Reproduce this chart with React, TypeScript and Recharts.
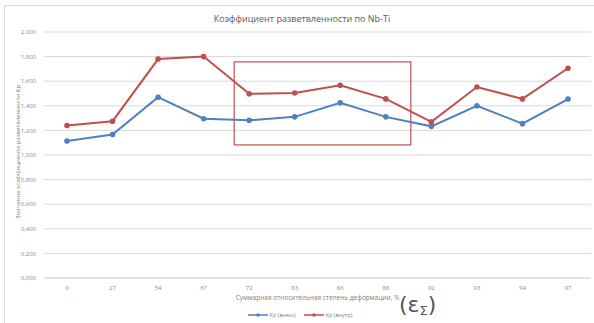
import {
  LineChart,
  Line,
  XAxis,
  YAxis,
  CartesianGrid,
  Legend,
  ReferenceArea,
} from "recharts";

const categories = ["0", "27", "54", "67", "72", "83", "86", "88", "92", "93", "94", "97"];
const outerKp = [1.114, 1.167, 1.47, 1.295, 1.282, 1.31, 1.424, 1.31, 1.233, 1.4, 1.255, 1.455];
const innerKp = [1.24, 1.275, 1.78, 1.8, 1.498, 1.504, 1.567, 1.456, 1.269, 1.553, 1.456, 1.705];
const yTicks = [0, 0.2, 0.4, 0.6, 0.8, 1, 1.2, 1.4, 1.6, 1.8, 2];
const boxRange = { from: "72", to: "88", low: 1.082, high: 1.757 };

const data = categories.map((c, i) => ({ eps: c, outer: outerKp[i], inner: innerKp[i] }));

const FONT = "'Open Sans', 'Liberation Sans', sans-serif";
const fmt = (v: number) => v.toFixed(3).replace(".", ",");

// the highlight box reaches a little past the 72 and 88 points
function BoxShape(props: any) {
  const { x, y, width, height } = props;
  return (
    <rect x={x - 15} y={y} width={width + 40} height={height} fill="none" stroke="#c0504d" strokeWidth={1.2} />
  );
}

function LegendRow({ payload }: any) {
  return (
    <div style={{ display: "flex", justifyContent: "center", gap: 8, fontSize: 5.5, color: "#7f7f7f", fontFamily: FONT }}>
      {(payload || []).map((item: any) => (
        <span key={item.value} style={{ display: "flex", alignItems: "center", gap: 2 }}>
          <svg width={20} height={6}>
            <line x1={0} y1={3} x2={20} y2={3} stroke={item.color} strokeWidth={1.5} />
            <circle cx={10} cy={3} r={1.8} fill={item.color} />
          </svg>
          {item.value}
        </span>
      ))}
    </div>
  );
}

export default function App() {
  return (
    <div style={{ position: "fixed", left: 0, top: 0, width: 594, height: 323, background: "#fff", fontFamily: FONT, overflow: "hidden" }}>
      <div style={{ position: "absolute", left: 4, top: 5, width: 620, height: 340, border: "1px solid #d9d9d9" }} />
      <div style={{ position: "absolute", left: 0, width: 604, top: 12, textAlign: "center", fontSize: 9, color: "#595959" }}>
        Коэффициент разветвленности по Nb-Ti
      </div>
      <LineChart width={594} height={323} data={data} margin={{ top: 32, right: 3, bottom: 21, left: 14 }}>
        <CartesianGrid vertical={false} stroke="#d9d9d9" />
        <XAxis
          dataKey="eps"
          padding={{ left: 23, right: 23 }}
          tickLine={false}
          axisLine={{ stroke: "#d9d9d9" }}
          tick={{ fontSize: 6, fill: "#8a8a8a", fontFamily: FONT }}
          height={24}
          label={{
            content: (p: any) => (
              <text x={p.viewBox.x + p.viewBox.width / 2} y={300} textAnchor="middle" fontSize={6.5} fill="#7f7f7f" fontFamily={FONT}>
                Суммарная относительная степень деформации, %
              </text>
            ),
          }}
        />
        <YAxis
          domain={[0, 2]}
          ticks={yTicks}
          tickFormatter={fmt}
          tickLine={false}
          axisLine={false}
          width={30}
          tick={{ fontSize: 6, fill: "#8a8a8a", fontFamily: FONT }}
          label={{
            content: (p: any) => {
              const cx = 18;
              const cy = p.viewBox.y + p.viewBox.height / 2 - 3;
              return (
                <text x={cx} y={cy} transform={`rotate(-90 ${cx} ${cy})`} textAnchor="middle" dominantBaseline="middle" fontSize={6} fill="#7f7f7f" fontFamily={FONT}>
                  Значение коэффициента разветвленности Кр
                </text>
              );
            },
          }}
        />
        <ReferenceArea x1={boxRange.from} x2={boxRange.to} y1={boxRange.low} y2={boxRange.high} shape={BoxShape} ifOverflow="visible" />
        <Line type="linear" dataKey="outer" name="Кр (внеш)" stroke="#4f81bd" strokeWidth={2} dot={{ r: 1.8, fill: "#4f81bd", stroke: "#4f81bd" }} isAnimationActive={false} />
        <Line type="linear" dataKey="inner" name="Кр (внутр)" stroke="#c0504d" strokeWidth={2} dot={{ r: 1.8, fill: "#c0504d", stroke: "#c0504d" }} isAnimationActive={false} />
        <Legend
          verticalAlign="middle"
          align="center"
          layout="horizontal"
          content={LegendRow}
          wrapperStyle={{ top: 312, left: 0, width: 600, lineHeight: "6px" }}
        />
      </LineChart>
      <div style={{ position: "absolute", left: 399, top: 295, fontSize: 22, color: "#555", fontFamily: "'DejaVu Sans', sans-serif", lineHeight: "20px" }}>
        (ε<span style={{ fontSize: 13, position: "relative", top: 3 }}>Σ</span>)
      </div>
    </div>
  );
}
